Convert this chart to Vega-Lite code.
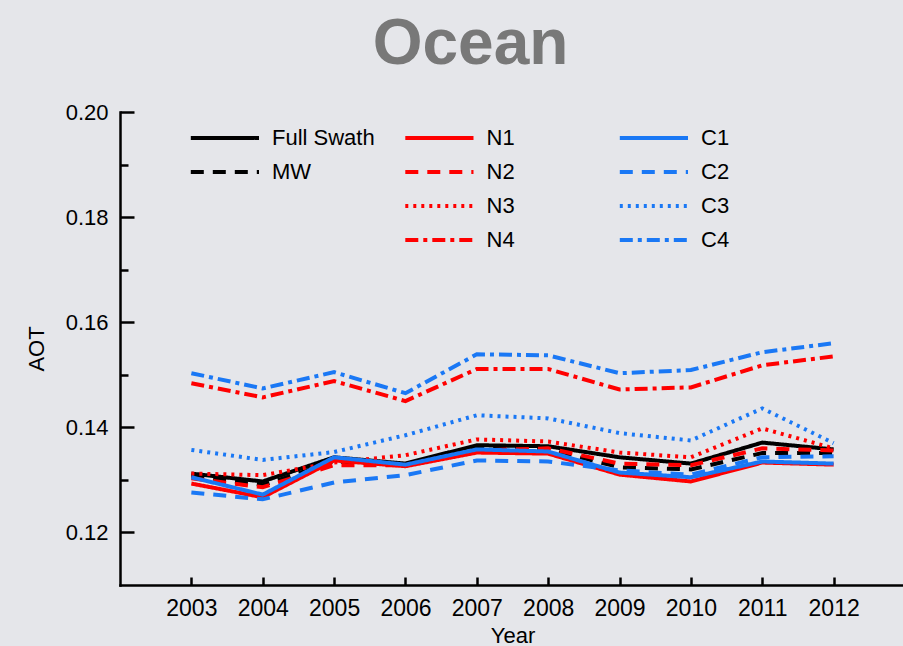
{
  "$schema": "https://vega.github.io/schema/vega-lite/v6.json",
  "autosize": "none",
  "padding": {"left": 120, "top": 112, "right": 0, "bottom": 61},
  "width": 785,
  "height": 473,
  "background": "#e5e6ea",
  "title": {"text": "Ocean", "fontSize": 64, "fontWeight": "bold", "color": "#787878", "font": "Liberation Sans", "anchor": "middle", "dx": -42, "offset": 24},
  "config": {
    "view": {"stroke": null},
    "axis": {"labelFont": "Liberation Sans", "titleFont": "Liberation Sans", "labelFontSize": 22, "titleFontSize": 22, "titleFontWeight": "normal", "labelColor": "#000", "titleColor": "#000", "domainColor": "#000", "tickColor": "#000", "domainWidth": 2.5, "tickWidth": 2.5, "grid": false, "domainCap": "square"},
    "legend": {"labelFont": "Liberation Sans"}
  },
  "data": {"values": [
    {"year": 2003, "series": "Full Swath", "aot": 0.1312}, {"year": 2004, "series": "Full Swath", "aot": 0.1297}, {"year": 2005, "series": "Full Swath", "aot": 0.1343}, {"year": 2006, "series": "Full Swath", "aot": 0.1331}, {"year": 2007, "series": "Full Swath", "aot": 0.1366}, {"year": 2008, "series": "Full Swath", "aot": 0.1364}, {"year": 2009, "series": "Full Swath", "aot": 0.1343}, {"year": 2010, "series": "Full Swath", "aot": 0.1331}, {"year": 2011, "series": "Full Swath", "aot": 0.1371}, {"year": 2012, "series": "Full Swath", "aot": 0.1358},
    {"year": 2003, "series": "MW", "aot": 0.1308}, {"year": 2004, "series": "MW", "aot": 0.1290}, {"year": 2005, "series": "MW", "aot": 0.1335}, {"year": 2006, "series": "MW", "aot": 0.1330}, {"year": 2007, "series": "MW", "aot": 0.1360}, {"year": 2008, "series": "MW", "aot": 0.1358}, {"year": 2009, "series": "MW", "aot": 0.1324}, {"year": 2010, "series": "MW", "aot": 0.1320}, {"year": 2011, "series": "MW", "aot": 0.1351}, {"year": 2012, "series": "MW", "aot": 0.1351},
    {"year": 2003, "series": "N1", "aot": 0.1293}, {"year": 2004, "series": "N1", "aot": 0.1267}, {"year": 2005, "series": "N1", "aot": 0.1337}, {"year": 2006, "series": "N1", "aot": 0.1326}, {"year": 2007, "series": "N1", "aot": 0.1352}, {"year": 2008, "series": "N1", "aot": 0.1350}, {"year": 2009, "series": "N1", "aot": 0.1310}, {"year": 2010, "series": "N1", "aot": 0.1297}, {"year": 2011, "series": "N1", "aot": 0.1333}, {"year": 2012, "series": "N1", "aot": 0.1329},
    {"year": 2003, "series": "N2", "aot": 0.1303}, {"year": 2004, "series": "N2", "aot": 0.1286}, {"year": 2005, "series": "N2", "aot": 0.1328}, {"year": 2006, "series": "N2", "aot": 0.1328}, {"year": 2007, "series": "N2", "aot": 0.1356}, {"year": 2008, "series": "N2", "aot": 0.1360}, {"year": 2009, "series": "N2", "aot": 0.1331}, {"year": 2010, "series": "N2", "aot": 0.1328}, {"year": 2011, "series": "N2", "aot": 0.1360}, {"year": 2012, "series": "N2", "aot": 0.1356},
    {"year": 2003, "series": "N3", "aot": 0.1312}, {"year": 2004, "series": "N3", "aot": 0.1309}, {"year": 2005, "series": "N3", "aot": 0.1333}, {"year": 2006, "series": "N3", "aot": 0.1347}, {"year": 2007, "series": "N3", "aot": 0.1377}, {"year": 2008, "series": "N3", "aot": 0.1373}, {"year": 2009, "series": "N3", "aot": 0.1352}, {"year": 2010, "series": "N3", "aot": 0.1343}, {"year": 2011, "series": "N3", "aot": 0.1398}, {"year": 2012, "series": "N3", "aot": 0.1360},
    {"year": 2003, "series": "N4", "aot": 0.1484}, {"year": 2004, "series": "N4", "aot": 0.1457}, {"year": 2005, "series": "N4", "aot": 0.1488}, {"year": 2006, "series": "N4", "aot": 0.1450}, {"year": 2007, "series": "N4", "aot": 0.1511}, {"year": 2008, "series": "N4", "aot": 0.1511}, {"year": 2009, "series": "N4", "aot": 0.1472}, {"year": 2010, "series": "N4", "aot": 0.1476}, {"year": 2011, "series": "N4", "aot": 0.1518}, {"year": 2012, "series": "N4", "aot": 0.1535},
    {"year": 2003, "series": "C1", "aot": 0.1305}, {"year": 2004, "series": "C1", "aot": 0.1272}, {"year": 2005, "series": "C1", "aot": 0.1343}, {"year": 2006, "series": "C1", "aot": 0.1329}, {"year": 2007, "series": "C1", "aot": 0.1358}, {"year": 2008, "series": "C1", "aot": 0.1354}, {"year": 2009, "series": "C1", "aot": 0.1314}, {"year": 2010, "series": "C1", "aot": 0.1305}, {"year": 2011, "series": "C1", "aot": 0.1335}, {"year": 2012, "series": "C1", "aot": 0.1331},
    {"year": 2003, "series": "C2", "aot": 0.1276}, {"year": 2004, "series": "C2", "aot": 0.1263}, {"year": 2005, "series": "C2", "aot": 0.1295}, {"year": 2006, "series": "C2", "aot": 0.1309}, {"year": 2007, "series": "C2", "aot": 0.1337}, {"year": 2008, "series": "C2", "aot": 0.1335}, {"year": 2009, "series": "C2", "aot": 0.1318}, {"year": 2010, "series": "C2", "aot": 0.1310}, {"year": 2011, "series": "C2", "aot": 0.1343}, {"year": 2012, "series": "C2", "aot": 0.1345},
    {"year": 2003, "series": "C3", "aot": 0.1357}, {"year": 2004, "series": "C3", "aot": 0.1338}, {"year": 2005, "series": "C3", "aot": 0.1353}, {"year": 2006, "series": "C3", "aot": 0.1385}, {"year": 2007, "series": "C3", "aot": 0.1423}, {"year": 2008, "series": "C3", "aot": 0.1417}, {"year": 2009, "series": "C3", "aot": 0.1389}, {"year": 2010, "series": "C3", "aot": 0.1375}, {"year": 2011, "series": "C3", "aot": 0.1436}, {"year": 2012, "series": "C3", "aot": 0.1370},
    {"year": 2003, "series": "C4", "aot": 0.1503}, {"year": 2004, "series": "C4", "aot": 0.1474}, {"year": 2005, "series": "C4", "aot": 0.1505}, {"year": 2006, "series": "C4", "aot": 0.1465}, {"year": 2007, "series": "C4", "aot": 0.1539}, {"year": 2008, "series": "C4", "aot": 0.1537}, {"year": 2009, "series": "C4", "aot": 0.1503}, {"year": 2010, "series": "C4", "aot": 0.1509}, {"year": 2011, "series": "C4", "aot": 0.1543}, {"year": 2012, "series": "C4", "aot": 0.1560}
  ]},
  "layer": [
    {
      "mark": {"type": "line", "strokeWidth": 4, "clip": true},
      "encoding": {
        "x": {"field": "year", "type": "quantitative", "scale": {"domain": [2002, 2013], "nice": false, "zero": false},
              "axis": {"values": [2003, 2004, 2005, 2006, 2007, 2008, 2009, 2010, 2011, 2012], "format": "d", "tickSize": -8, "labelPadding": 20, "labelFontSize": 23, "title": "Year", "titlePadding": 5, "labelFlush": false}},
        "y": {"field": "aot", "type": "quantitative", "scale": {"domain": [0.11, 0.2], "nice": false, "zero": false},
              "axis": {"orient": "left", "values": [0.12, 0.14, 0.16, 0.18, 0.2], "format": ".2f", "tickSize": -14, "labelPadding": 26, "title": "AOT", "titlePadding": 17, "labelFlush": false}},
        "color": {"field": "series", "type": "nominal",
                  "scale": {"domain": ["Full Swath", "MW", "b1", "b2", "N1", "N2", "N3", "N4", "C1", "C2", "C3", "C4"],
                            "range": ["#000000", "#000000", "rgba(0,0,0,0)", "rgba(0,0,0,0)", "#ff0000", "#ff0000", "#ff0000", "#ff0000", "#1a78f5", "#1a78f5", "#1a78f5", "#1a78f5"]},
                  "legend": {"title": null, "orient": "none", "legendX": 71, "legendY": 13, "columns": 3, "gridAlign": "all",
                             "symbolType": "M-1.2,0H5", "symbolSize": 484, "symbolStrokeWidth": 4, "labelOffset": 55,
                             "labelFontSize": 22, "labelColor": "#000", "columnPadding": 21.5, "rowPadding": 10, "padding": 0, "labelLimit": 300,
                             "labelExpr": "datum.label == 'b1' || datum.label == 'b2' ? '' : datum.label"}},
        "strokeDash": {"field": "series", "type": "nominal",
                       "scale": {"domain": ["Full Swath", "MW", "b1", "b2", "N1", "N2", "N3", "N4", "C1", "C2", "C3", "C4"],
                                 "range": [[1, 0], [13, 9], [1, 0], [1, 0], [1, 0], [13, 9], [3, 5], [13, 5, 4, 5], [1, 0], [13, 9], [3, 5], [13, 5, 4, 5]]},
                       "legend": {"title": null}}
      }
    },
    {
      "mark": {"type": "line", "opacity": 0},
      "encoding": {
        "x": {"field": "year", "type": "quantitative"},
        "y": {"field": "aot", "type": "quantitative", "scale": {"domain": [0.11, 0.2], "nice": false, "zero": false},
              "axis": {"orient": "left", "values": [0.13, 0.15, 0.17, 0.19], "labels": false, "domain": false, "tickSize": -8, "title": null}},
        "detail": {"field": "series"}
      }
    }
  ],
  "resolve": {"scale": {"y": "independent"}, "axis": {"y": "independent"}}
}
